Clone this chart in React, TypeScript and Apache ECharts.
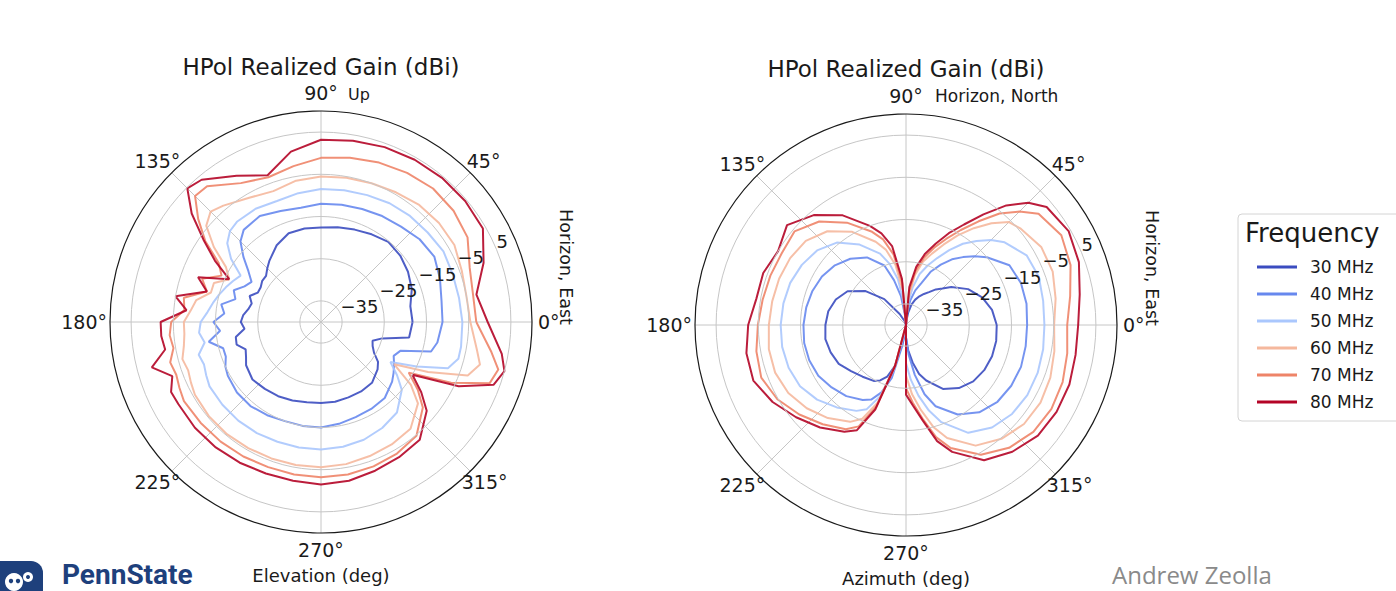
import { useEffect, useRef } from 'react';
import * as echarts from 'echarts';

const FONT = '"DejaVu Sans", sans-serif';

const freqNames = ['30 MHz', '40 MHz', '50 MHz', '60 MHz', '70 MHz', '80 MHz'];
const freqColors = ['#3b4cc0', '#6788ee', '#aac7fd', '#f5b89d', '#ee8468', '#b40426'];

// radial rings (dBi) and angular spokes (deg)
const gainTicks = [-35, -25, -15, -5, 5];
const angleTicks = [45, 90, 135, 180, 225, 270, 315, 360];

// ---- Elevation cut ----
const elevAngles = [0, 10, 20, 30, 40, 50, 60, 70, 80, 90, 100, 110, 120, 130, 135, 140, 145, 150, 155, 160, 165, 170, 175, 180, 185, 190, 195, 200, 205, 210, 220, 230, 240, 250, 260, 270, 280, 290, 300, 310, 320, 325, 330, 335, 340, 345, 350, 360];
const elev30 = [-18.3, -18.5, -17.1, -16.2, -15.5, -15.2, -16, -16.7, -17.2, -17.6, -17.5, -17.6, -19, -21, -22, -23, -23, -23.5, -23.5, -22, -23, -22.5, -21.5, -21, -21.8, -19.5, -19.3, -21, -20.4, -19.5, -18.8, -19.3, -19.7, -20.2, -20.7, -20.8, -20.8, -21, -21, -21.2, -22.5, -23.5, -25.5, -26.5, -27, -25, -18.8, -18.3];
const elev40 = [-11.2, -11, -10, -9, -9.5, -10.5, -11, -11.5, -11.8, -12, -12.5, -12, -11, -11.5, -13, -16, -19, -21, -20, -18, -19, -16, -17, -14.5, -16, -13, -16, -16, -15, -14.5, -14, -14, -14.5, -15, -15, -15, -15.5, -16, -16.2, -16.5, -18, -19, -20, -21, -20, -13, -12, -11.2];
const elev50 = [-6.5, -6.8, -6.8, -6.5, -7, -7.2, -7.5, -8, -8.3, -8.5, -9, -9.5, -9, -9, -9.5, -11, -14, -18, -17, -16, -15, -14, -13, -11.5, -11, -12, -10, -10.5, -10, -9.5, -9.5, -9.5, -9.6, -9.8, -9.8, -9.8, -10, -10.3, -11, -12, -15, -18, -21, -15, -8, -6.3, -6.3, -6.5];
const elev60 = [-4.6, -5, -4.5, -3.5, -3.5, -3.8, -4.5, -5, -5.3, -5.5, -6, -7, -6, -4, -3, -4.5, -9, -14, -16, -13, -13, -10, -9, -7.5, -7.5, -7, -6, -6.5, -6, -5.5, -5.3, -5.3, -5.5, -5.6, -5.6, -5.6, -5.8, -6.2, -6.5, -7, -10, -14, -20, -12, -3, -1, -2.5, -4.6];
const elev70 = [-3.2, -3.4, -2.5, 0.1, 1, 1.3, 0.8, 0.2, -0.5, -1.1, -2.5, -3.5, -2, 2, 2.2, -2, -6.5, -12, -14, -10, -12, -7, -7.5, -4.5, -4, -4.5, -3, -3.5, -3, -2.5, -2.8, -3, -3.2, -3.4, -3.3, -3.2, -3.3, -3.6, -4, -4.8, -8.5, -12, -16, -6, 2.5, 3.5, 1, -3.2];
const elev80 = [-0.5, -2.6, 1, 4.3, 4.6, 4.6, 4.4, 4.1, 3.6, 3.2, 1, -3, 0, 4, 4.8, 0, -6, -11, -16, -9, -12, -5, -8, -2, -2, -2.5, 1.5, -2.5, -0.8, -1, -1, -1.2, -1.5, -1.8, -1.8, -1.5, -1.8, -2.5, -3, -3.6, -7.3, -11, -15, -4, 3.5, 5, 3.5, -0.5];

// ---- Azimuth cut ----
const azAngles = [0, 10, 20, 30, 40, 45, 50, 55, 60, 65, 70, 75, 80, 85, 90, 95, 100, 105, 110, 120, 130, 140, 150, 160, 170, 180, 190, 200, 210, 220, 230, 240, 245, 250, 255, 260, 265, 270, 275, 280, 285, 290, 300, 310, 320, 330, 340, 350, 360];
const az30 = [-18.5, -19.3, -20.8, -23, -26, -27.8, -29, -30.5, -31.5, -32.5, -33.6, -35, -37, -39, -40, -40, -40, -40, -39, -37, -32, -27.5, -24, -22.3, -21.3, -20.9, -20.6, -21, -21.6, -23, -24, -24.7, -25.5, -27, -30, -36, -40, -37, -34, -31, -28, -26, -22.5, -20.5, -19.2, -18.6, -18.3, -18.3, -18.5];
const az40 = [-11.3, -11, -11, -11.7, -15, -17, -19, -21, -23.5, -26, -29.5, -31.5, -34, -37, -40, -38, -33, -29, -25, -21.5, -19.5, -18, -17, -16.4, -16, -15.7, -15.5, -15.6, -16, -17, -18, -19.5, -20.5, -23, -27, -35, -40, -37, -33, -28, -23, -19.5, -15.5, -13, -11.7, -11.2, -11, -11.2, -11.3];
const az50 = [-7.2, -7, -6.5, -7, -9.5, -11.5, -14, -16.5, -19.5, -22.5, -25, -27.5, -31, -35, -40, -35, -29, -25, -22, -18, -14.5, -12.5, -11.5, -10.8, -10.5, -10.3, -10.2, -10.4, -11, -12.5, -14.5, -16.5, -18, -22, -29, -38, -40, -31, -27, -23, -19, -15.5, -10.5, -8.3, -7.2, -6.8, -6.8, -7, -7.2];
const az60 = [-4.9, -4, -3, -3, -4.5, -5.5, -8.5, -12, -15.5, -19, -22, -24.5, -28, -33.5, -40, -32, -25.5, -21.5, -19, -14.5, -11, -9, -8.3, -8, -7.8, -7.5, -7, -7, -7.8, -9.3, -11.2, -13.5, -15.5, -20.5, -30, -40, -40, -28, -23.5, -19.5, -15, -11.5, -7, -4.8, -3.5, -3.2, -3.6, -4.3, -4.9];
const az70 = [-1.8, -0.5, 1.5, 2.5, 1, -2, -5.5, -10, -14, -17.5, -20.5, -23.5, -27, -32, -40, -30, -23, -19, -16.5, -12, -8, -5.5, -6, -5.8, -5.5, -4.9, -4, -3.5, -4.8, -7, -9.3, -11.5, -13.5, -19.5, -30, -40, -40, -25, -21.5, -17.5, -12.5, -9, -4.5, -2, -0.6, -0.2, -0.5, -1.2, -1.8];
const az80 = [0.8, 1.8, 3.6, 4.5, 3.5, 1, -3, -8, -12.5, -16, -19.5, -22.5, -26, -31, -40, -29, -21, -17.5, -15, -10, -6, -3.2, -5, -4, -4, -2.6, -1.6, -1.5, -3.5, -6, -8.3, -10.8, -12.5, -18.7, -30, -40, -40, -23.5, -20.8, -17, -11.5, -8, -3, -0.8, 0.8, 1.2, 1.2, 0.8, 0.8];

const elevSeries = [elev30, elev40, elev50, elev60, elev70, elev80];
const azSeries = [az30, az40, az50, az60, az70, az80];

// the angle axis starts at 22.5 deg so the gain labels sit along that spoke
const AXIS_START = 22.5;
const toPolar = (angles: number[], gains: number[]) =>
  angles.map((a, i) => [gains[i], a < AXIS_START ? a + 360 : a]);

const PLOTS = [
  { center: [321, 322], angles: elevAngles, curves: elevSeries },
  { center: [906, 325], angles: azAngles, curves: azSeries },
];

// per-direction nudges for the angle labels: [top, right, bottom, left]
const anglePad: Record<number, number[]> = {
  0: [0, 0, 0, 18],
  45: [0, 0, 11, 5],
  90: [0, 0, 21, 0],
  135: [0, 0, 11, 0],
  180: [0, 15, 0, 0],
  225: [10, 0, 0, 0],
  270: [19, 0, 0, 0],
  315: [10, 0, 0, 0],
};
const angleRich: Record<string, any> = {};
Object.keys(anglePad).forEach((k) => {
  angleRich['a' + k] = {
    padding: anglePad[Number(k)],
    fontSize: 19,
    fontFamily: FONT,
    color: '#1a1a1a',
  };
});

function buildOption(): echarts.EChartsOption {
  const textStyle = (size: number, extra: any = {}) => ({
    fontFamily: FONT,
    fontSize: size,
    fill: '#1a1a1a',
    ...extra,
  });

  const series: any[] = [];
  PLOTS.forEach((p, pi) => {
    p.curves.forEach((g, fi) => {
      series.push({
        type: 'line',
        name: freqNames[fi],
        coordinateSystem: 'polar',
        polarIndex: pi,
        data: toPolar(p.angles, g),
        symbol: 'none',
        showSymbol: false,
        clip: false,
        silent: true,
        lineStyle: { color: freqColors[fi], width: 2, opacity: 0.9 },
        itemStyle: { color: freqColors[fi] },
        z: 2 + fi * 0.1,
      });
    });
  });

  return {
    animation: false,
    backgroundColor: '#ffffff',
    polar: PLOTS.map((p) => ({ center: p.center, radius: 211 })),
    angleAxis: PLOTS.map((_, i) => ({
      polarIndex: i,
      type: 'value',
      min: AXIS_START,
      max: AXIS_START + 360,
      startAngle: AXIS_START,
      clockwise: false,
      axisLine: { show: true, lineStyle: { color: '#1a1a1a', width: 1.2 } },
      axisTick: { show: false, customValues: angleTicks },
      axisLabel: {
        customValues: angleTicks,
        formatter: (v: number) => {
          const d = Math.round(v) % 360;
          return `{a${d}|${d}°}`;
        },
        rich: angleRich,
        margin: -12,
        fontSize: 19,
        fontFamily: FONT,
        color: '#1a1a1a',
      },
      splitLine: { show: true, lineStyle: { color: '#c6c6c6', width: 1 } },
    })),
    radiusAxis: PLOTS.map((_, i) => ({
      polarIndex: i,
      type: 'value',
      min: -40,
      max: 10,
      axisLine: { show: false },
      axisTick: { show: false, customValues: gainTicks },
      axisLabel: {
        customValues: gainTicks,
        formatter: (v: number) => String(v).replace('-', '\u2212'),
        align: 'left',
        verticalAlign: 'bottom',
        margin: 0,
        lineHeight: 15,
        showMinLabel: true,
        showMaxLabel: true,
        hideOverlap: false,
        fontSize: 18,
        fontFamily: FONT,
        color: '#1a1a1a',
      },
      splitLine: { show: true, lineStyle: { color: '#c6c6c6', width: 1 } },
      z: 10,
    })),
    legend: {
      data: freqNames,
      orient: 'vertical',
      left: 1238,
      top: 214,
      icon: 'rect',
      itemWidth: 40,
      itemHeight: 3,
      itemGap: 7,
      padding: [43, 30, 9, 19],
      borderColor: '#d4d4d4',
      borderWidth: 1,
      borderRadius: 4,
      backgroundColor: '#ffffff',
      selectedMode: false,
      textStyle: { fontSize: 17, fontFamily: FONT, color: '#1a1a1a', lineHeight: 20, padding: [0, 0, 0, 8] },
    },
    graphic: [
      { type: 'text', x: 321, y: 67, style: { text: 'HPol Realized Gain (dBi)', textAlign: 'center', textVerticalAlign: 'middle', ...textStyle(23) } },
      { type: 'text', x: 906, y: 69, style: { text: 'HPol Realized Gain (dBi)', textAlign: 'center', textVerticalAlign: 'middle', ...textStyle(23) } },
      { type: 'text', x: 348, y: 94, style: { text: 'Up', textAlign: 'left', textVerticalAlign: 'middle', ...textStyle(16) } },
      { type: 'text', x: 935, y: 96, style: { text: 'Horizon, North', textAlign: 'left', textVerticalAlign: 'middle', ...textStyle(17) } },
      { type: 'text', x: 321, y: 575, style: { text: 'Elevation (deg)', textAlign: 'center', textVerticalAlign: 'middle', ...textStyle(18) } },
      { type: 'text', x: 906, y: 578, style: { text: 'Azimuth (deg)', textAlign: 'center', textVerticalAlign: 'middle', ...textStyle(18) } },
      { type: 'text', x: 566, y: 267, rotation: -Math.PI / 2, style: { text: 'Horizon, East', textAlign: 'center', textVerticalAlign: 'middle', ...textStyle(17.5) } },
      { type: 'text', x: 1152, y: 268, rotation: -Math.PI / 2, style: { text: 'Horizon, East', textAlign: 'center', textVerticalAlign: 'middle', ...textStyle(17.5) } },
      { type: 'text', x: 1245, y: 233, z: 20, style: { text: 'Frequency', textAlign: 'left', textVerticalAlign: 'middle', ...textStyle(26) } },
      // footer: university mark and author
      {
        type: 'group',
        children: [
          { type: 'rect', shape: { x: -4, y: 561, width: 47, height: 40, r: [0, 12, 0, 0] }, style: { fill: '#1e407c' } },
          { type: 'circle', shape: { cx: 14, cy: 582, r: 9 }, style: { fill: '#ffffff' } },
          { type: 'circle', shape: { cx: 28, cy: 577, r: 5 }, style: { fill: '#ffffff' } },
          { type: 'circle', shape: { cx: 11, cy: 581, r: 2.2 }, style: { fill: '#1e407c' } },
          { type: 'circle', shape: { cx: 18, cy: 581, r: 2.2 }, style: { fill: '#1e407c' } },
          { type: 'circle', shape: { cx: 28, cy: 577, r: 2 }, style: { fill: '#1e407c' } },
          { type: 'text', x: 62, y: 574, style: { text: 'PennState', textAlign: 'left', textVerticalAlign: 'middle', fontFamily: 'Roboto, sans-serif', fontWeight: 'bold', fontSize: 28, lineHeight: 28, fill: '#1e407c' } },
        ],
      },
      { type: 'text', x: 1112, y: 574, style: { text: 'Andrew Zeolla', textAlign: 'left', textVerticalAlign: 'middle', fontFamily: '"Open Sans", sans-serif', fontSize: 24, lineHeight: 24, fill: '#8a8a8a' } },
    ],
    series,
  } as any;
}

export default function App() {
  const ref = useRef<HTMLDivElement>(null);
  useEffect(() => {
    if (!ref.current) return;
    const chart = echarts.init(ref.current, undefined, { renderer: 'svg' });
    chart.setOption(buildOption());
    return () => chart.dispose();
  }, []);
  return (
    <div
      ref={ref}
      style={{ position: 'fixed', left: 0, top: 0, width: 1396, height: 591, background: '#ffffff' }}
    />
  );
}
